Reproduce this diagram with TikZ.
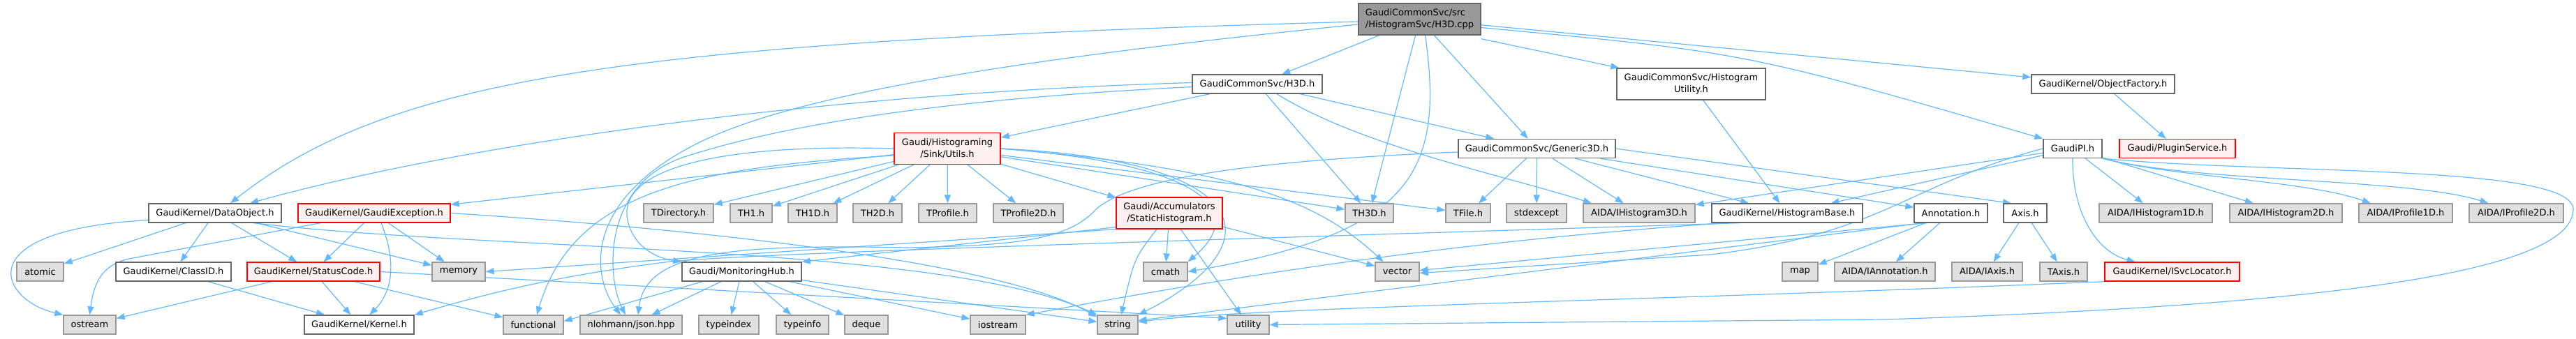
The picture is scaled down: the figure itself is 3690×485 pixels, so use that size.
\documentclass[tikz,border=0pt]{standalone}
\usepackage{fontspec}
\setmainfont{DejaVu Sans}
\usetikzlibrary{arrows.meta}
\pgfdeclarelayer{bg}
\pgfsetlayers{bg,main}
\definecolor{edgec}{HTML}{63B8FF}
\definecolor{boxline}{HTML}{666666}
\definecolor{sysline}{HTML}{999999}
\definecolor{sysfill}{HTML}{E0E0E0}
\definecolor{redline}{HTML}{FF0000}
\definecolor{redfill}{HTML}{FFF0F0}
\definecolor{rootfill}{HTML}{999999}
\definecolor{rootline}{HTML}{666666}
\begin{document}
\begin{tikzpicture}[x=1pt,y=-1pt,
  box/.style={draw=boxline, fill=white, line width=1.3pt, minimum height=27pt, inner sep=0pt,
              font=\fontsize{13}{17}\selectfont, text=black},
  sysbox/.style={box, draw=sysline, fill=sysfill},
  redbox/.style={box, draw=redline, fill=redfill},
  rootbox/.style={box, draw=rootline, fill=rootfill},
  two/.style={minimum height=45pt, align=center},
  edge/.style={draw=edgec, line width=1.2pt, -{Triangle[length=12pt,width=9pt]}}]
\useasboundingbox (0,0) rectangle (3690,485);
% row 0
\node[rootbox, two, align=left, minimum width=175pt] (cpp) at (2033.5,27.5) {GaudiCommonSvc/src\\/HistogramSvc/H3D.cpp};
% row 1
\node[box, minimum width=186pt] (h3dh) at (1801,120.5) {GaudiCommonSvc/H3D.h};
\node[box, two, minimum width=213pt] (histutil) at (2422.5,120.5) {GaudiCommonSvc/Histogram\\Utility.h};
\node[box, minimum width=205pt] (objfact) at (3012.5,120.5) {GaudiKernel/ObjectFactory.h};
% row 2
\node[redbox, two, minimum width=152pt] (utils) at (1357,213) {Gaudi/Histograming\\/Sink/Utils.h};
\node[box, minimum width=225pt] (generic) at (2201.5,213) {GaudiCommonSvc/Generic3D.h};
\node[box, minimum width=84pt] (gaudipi) at (2969,213) {GaudiPI.h};
\node[redbox, minimum width=166pt] (plugin) at (3119,213) {Gaudi/PluginService.h};
% row 3
\node[box, minimum width=190pt] (dataobj) at (308,305.5) {GaudiKernel/DataObject.h};
\node[redbox, minimum width=218pt] (gexc) at (536,305.5) {GaudiKernel/GaudiException.h};
\node[sysbox, minimum width=100pt] (tdir) at (972,305.5) {TDirectory.h};
\node[sysbox, minimum width=60pt] (th1) at (1076,305.5) {TH1.h};
\node[sysbox, minimum width=70pt] (th1d) at (1164,305.5) {TH1D.h};
\node[sysbox, minimum width=70pt] (th2d) at (1257,305.5) {TH2D.h};
\node[sysbox, minimum width=83pt] (tprof) at (1357.5,305.5) {TProfile.h};
\node[sysbox, minimum width=100pt] (tprof2d) at (1473,305.5) {TProfile2D.h};
\node[redbox, two, minimum width=152pt] (statich) at (1675,305.5) {Gaudi/Accumulators\\/StaticHistogram.h};
\node[sysbox, minimum width=69pt] (th3d) at (1961.5,305.5) {TH3D.h};
\node[sysbox, minimum width=64pt] (tfile) at (2103,305.5) {TFile.h};
\node[sysbox, minimum width=86pt] (stdexc) at (2201,305.5) {stdexcept};
\node[sysbox, minimum width=160pt] (ihist3d) at (2348,305.5) {AIDA/IHistogram3D.h};
\node[box, minimum width=216pt] (histbase) at (2560,305.5) {GaudiKernel/HistogramBase.h};
\node[box, minimum width=105pt] (annot) at (2794.5,305.5) {Annotation.h};
\node[box, minimum width=62pt] (axis) at (2901,305.5) {Axis.h};
\node[sysbox, minimum width=162pt] (ihist1d) at (3088,305.5) {AIDA/IHistogram1D.h};
\node[sysbox, minimum width=161pt] (ihist2d) at (3274.5,305.5) {AIDA/IHistogram2D.h};
\node[sysbox, minimum width=134pt] (iprof1d) at (3446,305.5) {AIDA/IProfile1D.h};
\node[sysbox, minimum width=135pt] (iprof2d) at (3604.5,305.5) {AIDA/IProfile2D.h};
% row 4
\node[sysbox, minimum width=67pt] (atomic) at (57.5,389.5) {atomic};
\node[box, minimum width=165pt] (classid) at (248.5,389.5) {GaudiKernel/ClassID.h};
\node[redbox, minimum width=190pt] (statcode) at (449,389.5) {GaudiKernel/StatusCode.h};
\node[sysbox, minimum width=76pt] (memory) at (657,389.5) {memory};
\node[box, minimum width=171pt] (monhub) at (1062.5,389.5) {Gaudi/MonitoringHub.h};
\node[sysbox, minimum width=63pt] (cmath) at (1669.5,389.5) {cmath};
\node[sysbox, minimum width=63pt] (vector) at (2001.5,389.5) {vector};
\node[sysbox, minimum width=51pt] (nmap) at (2578.5,389.5) {map};
\node[sysbox, minimum width=144pt] (iannot) at (2700,389.5) {AIDA/IAnnotation.h};
\node[sysbox, minimum width=101pt] (iaxis) at (2846.5,389.5) {AIDA/IAxis.h};
\node[sysbox, minimum width=68pt] (taxis) at (2956,389.5) {TAxis.h};
\node[redbox, minimum width=193pt] (isvcloc) at (3111.5,389.5) {GaudiKernel/ISvcLocator.h};
% row 5
\node[sysbox, minimum width=75pt] (ostream) at (128.5,465.5) {ostream};
\node[box, minimum width=157pt] (kernel) at (514.5,465.5) {GaudiKernel/Kernel.h};
\node[sysbox, minimum width=86pt] (functional) at (764,465.5) {functional};
\node[sysbox, minimum width=146pt] (json) at (904,465.5) {nlohmann/json.hpp};
\node[sysbox, minimum width=86pt] (typeindex) at (1044,465.5) {typeindex};
\node[sysbox, minimum width=75pt] (typeinfo) at (1149.5,465.5) {typeinfo};
\node[sysbox, minimum width=62pt] (deque) at (1241,465.5) {deque};
\node[sysbox, minimum width=79pt] (iostream) at (1429.5,465.5) {iostream};
\node[sysbox, minimum width=58pt] (nstring) at (1601,465.5) {string};
\node[sysbox, minimum width=60pt] (utility) at (1788,465.5) {utility};

\begin{pgfonlayer}{bg}
% H3D.cpp
\draw[edge] (cpp) -- (h3dh);
\draw[edge] (cpp) -- (th3d);
\draw[edge] (cpp) -- (generic);
\draw[edge] ([yshift=-5pt]cpp.south east) -- ([xshift=4pt]histutil.north west);
\draw[edge] (cpp) -- (objfact);
\draw[edge] ([yshift=-12pt]cpp.east) .. controls (2500,75) .. (gaudipi.north west);
\draw[edge] ([yshift=-3.5pt]cpp.west) .. controls (900,60) and (560,110) .. ([xshift=22pt]dataobj.north);
\draw[edge] ([yshift=-7.5pt]cpp.west) .. controls (1500,80) and (1150,130) .. (1000,205) .. controls (830,290) and (850,400) .. ([xshift=-15pt]json.north);
\draw[edge] ([xshift=8pt]cpp.south) .. controls (2070,250) and (2020,335) .. (cmath.east);
% H3D.h
\draw[edge] (h3dh) -- (utils);
\draw[edge] (h3dh) -- (th3d);
\draw[edge] (h3dh) -- (generic);
\draw[edge] ([xshift=28pt]h3dh.south) .. controls (1950,210) and (2150,250) .. ([xshift=-68pt]ihist3d.north);
\draw[edge] ([yshift=2pt]h3dh.west) .. controls (1150,135) and (650,210) .. ([xshift=50pt]dataobj.north);
\draw[edge] ([yshift=-4pt]h3dh.west) .. controls (1400,140) and (1150,170) .. (980,225) .. controls (860,265) and (870,400) .. ([xshift=-8pt]json.north);
% HistogramUtility, ObjectFactory
\draw[edge] (histutil) -- (histbase);
\draw[edge] (objfact) -- (plugin);
% Sink/Utils
\draw[edge] (utils) -- (gexc);
\draw[edge] (utils) -- (tdir);
\draw[edge] (utils) -- (th1);
\draw[edge] (utils) -- (th1d);
\draw[edge] (utils) -- (th2d);
\draw[edge] (utils) -- (tprof);
\draw[edge] (utils) -- (tprof2d);
\draw[edge] (utils) -- (statich);
\draw[edge] (utils) -- (th3d);
\draw[edge] (utils) -- (tfile);
\draw[edge] (utils.east) .. controls (1750,240) and (1880,280) .. ([xshift=-20pt]vector.north);
\draw[edge] (utils.east) .. controls (1720,235) and (1790,300) .. (cmath.north east);
\draw[edge] (utils.east) .. controls (1800,230) and (1830,350) .. (nstring.north east);
\draw[edge] (utils.west) .. controls (1000,205) and (880,250) .. (900,320) .. controls (910,355) and (940,370) .. (monhub.north west);
\draw[edge] ([yshift=-10pt]utils.west) .. controls (980,240) and (820,280) .. ([xshift=5pt]functional.north);
% Generic3D
\draw[edge] (generic) -- (tfile);
\draw[edge] (generic) -- (stdexc);
\draw[edge] (generic) -- (ihist3d);
\draw[edge] (generic) -- (histbase);
\draw[edge] (generic) -- (annot);
\draw[edge] (generic.east) -- ([xshift=-20pt]axis.north);
\draw[edge] ([yshift=-5pt]generic.west) .. controls (1800,230) and (1620,255) .. (1570,300) .. controls (1530,345) and (1450,352) .. (1300,355) .. controls (1050,350) and (925,360) .. ([xshift=10pt]json.north);
% GaudiPI
\draw[edge] (gaudipi) -- (ihist3d);
\draw[edge] (gaudipi) -- (histbase);
\draw[edge] (gaudipi.west) .. controls (2730,265) and (2700,335) .. (2450,365) -- ([yshift=-2pt]vector.east);
\draw[edge] (gaudipi) -- (ihist1d);
\draw[edge] (gaudipi) -- (ihist2d);
\draw[edge] (gaudipi.south east) .. controls (3120,255) and (3300,258) .. ([xshift=-50pt]iprof1d.north);
\draw[edge] (gaudipi.south east) .. controls (3150,262) and (3450,255) .. ([xshift=-40pt]iprof2d.north);
\draw[edge] (gaudipi.south) .. controls (2968,300) and (3000,360) .. ([xshift=-53pt]isvcloc.north);
\draw[edge] (gaudipi.south east) .. controls (3250,250) and (3686,235) .. (3686,300) .. controls (3686,400) and (3250,440) .. (2700,458) -- (utility.east);
% DataObject
\draw[edge] (dataobj) -- (atomic);
\draw[edge] (dataobj) -- (classid);
\draw[edge] (dataobj) -- (statcode);
\draw[edge] (dataobj) -- (memory);
\draw[edge] ([yshift=-10pt]dataobj.west) .. controls (-50,330) and (0,430) .. (ostream.north west);
\draw[edge] ([xshift=55pt]dataobj.south) .. controls (700,360) and (1350,350) .. (nstring.north west);
% GaudiException
\draw[edge] (gexc) -- (statcode);
\draw[edge] (gexc) -- (memory);
\draw[edge] ([xshift=33pt]gexc.south west) -- (190,370) .. controls (150,377) and (135,400) .. (ostream.north);
\draw[edge] ([xshift=10pt]gexc.south) .. controls (570,380) and (560,420) .. ([xshift=15pt]kernel.north);
\draw[edge] (gexc.east) .. controls (1100,335) and (1450,385) .. ([yshift=-3pt]nstring.north west);
% StaticHistogram
\draw[edge] (statich) -- (cmath);
\draw[edge] ([xshift=-18pt]statich.south) .. controls (1625,370) .. ([xshift=5pt]nstring.north);
\draw[edge] (statich) -- (utility);
\draw[edge] (statich) -- (vector);
\draw[edge] (statich.south west) -- (memory.east);
\draw[edge] ([yshift=3pt]statich.south west) -- (monhub.north east);
% HistogramBase
\draw[edge] ([xshift=40pt]histbase.south west) .. controls (1700,345) and (1100,362) .. (960,375) .. controls (800,395) and (700,420) .. (kernel.north east);
\draw[edge] ([xshift=20pt]histbase.south west) .. controls (2100,345) and (1800,390) .. (iostream.north east);
% Annotation, Axis
\draw[edge] (annot) -- (nmap);
\draw[edge] (annot) -- (iannot);
\draw[edge] ([xshift=-35pt]annot.south) -- ([yshift=2pt]vector.east);
\draw[edge] ([xshift=-40pt]annot.south) -- ([yshift=6pt]nstring.east);
\draw[edge] (axis) -- (iaxis);
\draw[edge] (axis) -- (taxis);
% ClassID, StatusCode
\draw[edge] (classid) -- (kernel);
\draw[edge] (statcode) -- (ostream);
\draw[edge] (statcode) -- (kernel);
\draw[edge] (statcode) -- (functional);
\draw[edge] (statcode.east) -- ([yshift=-5pt]utility.north west);
% MonitoringHub
\draw[edge] ([xshift=30pt]monhub.south west) -- ([yshift=5pt]functional.east);
\draw[edge] (monhub) -- (json);
\draw[edge] (monhub) -- (typeindex);
\draw[edge] (monhub) -- (typeinfo);
\draw[edge] (monhub) -- (deque);
\draw[edge] (monhub) -- (iostream);
\draw[edge] (monhub) -- (nstring);
% ISvcLocator
\draw[edge] (isvcloc.south west) .. controls (2400,430) and (1800,440) .. ([yshift=4pt]nstring.east);
\end{pgfonlayer}
\end{tikzpicture}
\end{document}
